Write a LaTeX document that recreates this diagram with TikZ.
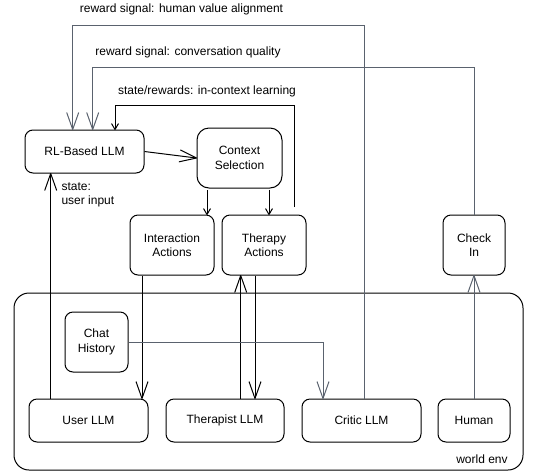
\documentclass[tikz,border=0pt]{standalone}
\usepackage{fontspec}
\setmainfont{Liberation Sans}
\usetikzlibrary{arrows.meta}
\definecolor{sigline}{RGB}{90,98,110}
% plain open V head
\pgfdeclarearrow{
  name=OpenV,
  parameters={\the\pgfarrowlength,\the\pgfarrowwidth},
  setup code={
    \pgfarrowssettipend{0pt}
    \pgfarrowssetbackend{-\pgfarrowlength}
    \pgfarrowssetlineend{-0.5\pgflinewidth}
    \pgfarrowssavethe\pgfarrowlength
    \pgfarrowssavethe\pgfarrowwidth
    \pgfarrowshullpoint{0pt}{0pt}
    \pgfarrowshullpoint{-\pgfarrowlength}{.5\pgfarrowwidth}
    \pgfarrowshullpoint{-\pgfarrowlength}{-.5\pgfarrowwidth}
  },
  drawing code={
    \pgfsetdash{}{0pt}\pgfsetroundjoin
    \pgfpathmoveto{\pgfqpoint{-\pgfarrowlength}{.5\pgfarrowwidth}}
    \pgfpathlineto{\pgfpointorigin}
    \pgfpathlineto{\pgfqpoint{-\pgfarrowlength}{-.5\pgfarrowwidth}}
    \pgfusepathqstroke
  },
  defaults={length=16pt,width=12pt}
}
\begin{document}
\begin{tikzpicture}[x=1pt,y=-1pt,
  font=\fontsize{12}{14.5}\selectfont,
  box/.style={draw,line width=1pt,rounded corners=8pt,align=center,inner sep=0pt},
  bigtip/.style={-{OpenV[length=17pt,width=12pt]}},
  smalltip/.style={-{OpenV[length=6pt,width=7pt]}},
  blackline/.style={draw,line width=1pt},
  grayline/.style={draw=sigline,line width=1pt}]
\useasboundingbox (0,0) rectangle (543,472);
% world env
\draw[line width=1pt,rounded corners=15pt] (14,293) rectangle (523,470);
\node (env) at (482,459) {world env};
% agent side
\node[box,minimum width=119pt,minimum height=43pt] (rl) at (84.5,151.5) {RL-Based LLM};
\node[box,rounded corners=12pt,minimum width=85pt,minimum height=60pt] (ctx) at (239.5,158) {Context\\Selection};
\node[box,minimum width=84pt,minimum height=60pt] (inter) at (172,245) {Interaction\\Actions};
\node[box,minimum width=84pt,minimum height=60pt] (ther) at (264,245) {Therapy\\Actions};
\node[box,minimum width=62pt,minimum height=60pt] (check) at (474,245) {Check\\In};
% environment side
\node[box,minimum width=63pt,minimum height=60pt] (chat) at (96.5,342) {Chat\\History};
\node[box,minimum width=119pt,minimum height=43pt] (user) at (88.5,420.5) {User LLM};
\node[box,minimum width=118pt,minimum height=43pt] (tllm) at (225,420.5) {Therapist LLM};
\node[box,minimum width=119pt,minimum height=43pt] (critic) at (361.5,420.5) {Critic LLM};
\node[box,minimum width=72pt,minimum height=43pt] (human) at (474,420.5) {Human};
% labels
\node (lhuman) at (181.5,9.5) {reward signal: human value alignment};
\node (lconv) at (188,52) {reward signal: conversation quality};
\node (lctx) at (207,91) {state/rewards: in-context learning};
\node[align=left,anchor=west] (lstate) at (58,195) {state:\\user input};
% reward signals
\draw[grayline,bigtip] (critic.north -| 364,0) |- (72.7,25) -- (rl.north -| 72.7,0);
\draw[grayline,bigtip] (check.north) |- (92.7,67.7) -- (rl.north -| 92.7,0);
\draw[blackline,smalltip] (294,207) |- (115,105) -- (rl.north -| 115,0);
% flow
\draw[blackline,bigtip] (rl.east) -- (ctx.west);
\draw[blackline,smalltip] (207,190) -- (inter.north -| 207,0);
\draw[blackline,smalltip] (269,190) -- (ther.north -| 269,0);
\draw[blackline,bigtip] (user.north -| 50.7,0) -- (rl.south -| 50.7,0);
\draw[blackline,bigtip] (inter.south -| 142,0) -- (user.north -| 142,0);
\draw[blackline,bigtip] (tllm.north -| 240.7,0) -- (ther.south -| 240.7,0);
\draw[blackline,bigtip] (ther.south -| 255,0) -- (tllm.north -| 255,0);
\draw[grayline,bigtip] (chat.east) -| (critic.north -| 323,0);
\draw[grayline,bigtip] (human.north) -- (check.south);
\end{tikzpicture}
\end{document}
